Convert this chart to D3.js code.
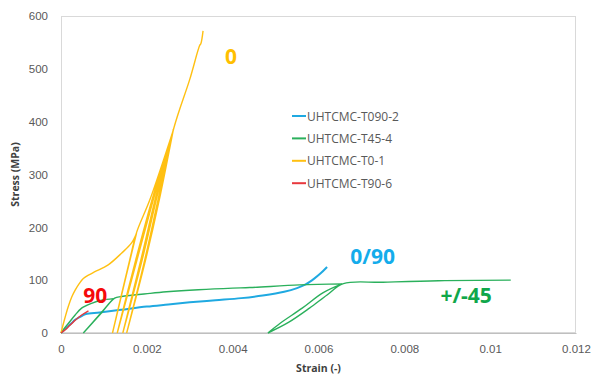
<!DOCTYPE html>
<html>
<head>
<meta charset="utf-8">
<script src="https://cdn.jsdelivr.net/npm/d3@7"></script>
<style>
  html, body { margin: 0; padding: 0; background: #fff; }
  svg { display: block; font-family: "Open Sans", "DejaVu Sans", sans-serif; }
</style>
</head>
<body>
<svg id="chart" width="592" height="376"></svg>
<script>
// Axis ticks
const xTicks = [0, 0.002, 0.004, 0.006, 0.008, 0.01, 0.012];
const yTicks = [0, 100, 200, 300, 400, 500, 600];

// Stress-strain records, [strain, stress (MPa)]
const t090_2 = [
  [0, 0], [0.00008, 6], [0.00017, 13], [0.00025, 19], [0.00033, 25], [0.00041, 29], [0.00048, 32],
  [0.00058, 36], [0.0009, 39], [0.0014, 44], [0.002, 50], [0.0025, 54], [0.003, 58],
  [0.0036, 62], [0.0042, 66], [0.0047, 71], [0.0052, 78], [0.0055, 85], [0.0057, 92],
  [0.0059, 103], [0.00605, 113], [0.0062, 125]
];

const t45_4 = [
  [0, 0], [0.00008, 9], [0.00017, 18], [0.00033, 34], [0.00048, 47], [0.00071, 56], [0.00095, 62], [0.00122, 65],
  [0.00088, 33], [0.00052, 0],
  [0.00092, 36], [0.00125, 66],
  [0.00141, 69], [0.00207, 75], [0.00246, 78], [0.0032, 82], [0.004, 85], [0.0044, 86],
  [0.00556, 91], [0.00655, 93],
  [0.0061, 76], [0.00562, 47], [0.0051, 18], [0.00482, 0],
  [0.0053, 20], [0.00579, 47], [0.0062, 72], [0.00658, 93.5],
  [0.0075, 96], [0.0088, 99], [0.01048, 100]
];

const t0_1 = [
  [0, 0], [0.00008, 25], [0.00017, 50], [0.00025, 68], [0.00033, 81], [0.00042, 93], [0.00052, 103],
  [0.00065, 110], [0.00079, 116], [0.0011, 129], [0.00141, 151], [0.00164, 170], [0.00176, 189],
  [0.00148, 95], [0.0012, 0],
  [0.0016, 138], [0.00176, 190], [0.00207, 252], [0.00262, 385],
  [0.00215, 252], [0.00177, 138], [0.00131, 0],
  [0.00174, 138], [0.00212, 252], [0.00262, 385],
  [0.00222, 252], [0.00189, 138], [0.00144, 0],
  [0.00186, 138], [0.00219, 252], [0.00262, 386],
  [0.00229, 252], [0.00197, 138], [0.00153, 0],
  [0.00195, 138], [0.00226, 252], [0.00263, 388],
  [0.0030, 480], [0.00323, 544], [0.00326, 548], [0.00331, 572]
];

const t90_6 = [
  [0, 0], [0.0001, 6], [0.0002, 14], [0.0003, 22], [0.0004, 29], [0.0005, 35], [0.00064, 42]
];

const seriesNames = ["UHTCMC-T090-2", "UHTCMC-T45-4", "UHTCMC-T0-1", "UHTCMC-T90-6"];
const seriesData = [t090_2, t45_4, t0_1, t90_6];
const seriesColors = ["#1FA9E1", "#2BB05C", "#FFC012", "#E8383D"];
const seriesWidths = [2, 1.4, 1.4, 1.4];

// Orientation labels placed on the plot
const orientLabels = ["0/90", "+/-45", "0", "90"];
const orientColors = ["#14ACEB", "#10A74A", "#FFBF00", "#F50A0A"];
const orientPos = [[0.00726, 146], [0.00944, 71], [0.00396, 525], [0.0008, 72]];

const svg = d3.select("#chart");
const margin = { top: 16, right: 16, bottom: 43, left: 61 };
const W = 592, H = 376;
const iw = W - margin.left - margin.right;
const ih = H - margin.top - margin.bottom;

const x = d3.scaleLinear().domain([0, 0.012]).range([margin.left, margin.left + iw]);
const y = d3.scaleLinear().domain([0, 600]).range([margin.top + ih, margin.top]);

// Plot-area frame
svg.append("rect")
  .attr("x", margin.left + 0.5).attr("y", margin.top + 0.5)
  .attr("width", iw - 1).attr("height", ih - 1)
  .attr("fill", "none").attr("stroke", "#D9D9D9").attr("stroke-width", 1);

// Axes
const xAxis = d3.axisBottom(x).tickValues(xTicks).tickSize(0).tickPadding(12)
  .tickFormat(d => d === 0 ? "0" : d3.format("~g")(d));
const gx = svg.append("g").attr("transform", `translate(0,${margin.top + ih})`).call(xAxis);
gx.select(".domain").attr("stroke", "#BFBFBF");
gx.selectAll("text").attr("fill", "#595959").style("font-size", "11.5px");

const yAxis = d3.axisLeft(y).tickValues(yTicks).tickSize(0).tickPadding(13);
const gy = svg.append("g").attr("transform", `translate(${margin.left},0)`).call(yAxis);
gy.select(".domain").remove();
gy.selectAll("text").attr("fill", "#595959").style("font-size", "11.5px");

// Axis titles
svg.append("text")
  .attr("x", margin.left + iw / 2).attr("y", 372)
  .attr("text-anchor", "middle").attr("fill", "#404040")
  .style("font-size", "10.5px").style("font-weight", "bold")
  .text("Strain (-)");
svg.append("text")
  .attr("transform", `translate(19,${margin.top + ih / 2}) rotate(-90)`)
  .attr("text-anchor", "middle").attr("fill", "#404040")
  .style("font-size", "10.5px").style("font-weight", "bold")
  .text("Stress (MPa)");

// Break a loading history into monotone loading / unloading branches
function branches(data) {
  const out = [];
  let cur = [data[0]];
  let dir = 0;
  for (let i = 1; i < data.length; i++) {
    const d = Math.sign(data[i][1] - data[i - 1][1]);
    if (dir !== 0 && d !== 0 && d !== dir) {
      out.push(cur);
      cur = [data[i - 1]];
    }
    if (d !== 0) dir = d;
    cur.push(data[i]);
  }
  out.push(cur);
  return out;
}

// Curves
const line = d3.line()
  .x(d => x(d[0])).y(d => y(d[1]))
  .curve(d3.curveCatmullRom.alpha(0.5));

const plot = svg.append("g");
seriesData.forEach((data, i) => {
  const path = branches(data).map(b => line(b)).join("");
  plot.append("path")
    .attr("d", path)
    .attr("fill", "none")
    .attr("stroke", seriesColors[i])
    .attr("stroke-width", seriesWidths[i])
    .attr("stroke-linejoin", "round");
});

// Legend
const legend = svg.append("g").attr("transform", "translate(292,116)");
seriesNames.forEach((name, i) => {
  const g = legend.append("g").attr("transform", `translate(0,${i * 22.4})`);
  g.append("line").attr("x1", 0).attr("x2", 14).attr("y1", 0).attr("y2", 0)
    .attr("stroke", seriesColors[i]).attr("stroke-width", 2);
  g.append("text").attr("x", 15).attr("y", 4.5)
    .attr("fill", "#595959").style("font-size", "12px")
    .text(name);
});

// Orientation labels
orientLabels.forEach((t, i) => {
  svg.append("text")
    .attr("x", x(orientPos[i][0])).attr("y", y(orientPos[i][1]))
    .attr("text-anchor", "middle").attr("dominant-baseline", "central")
    .attr("fill", orientColors[i])
    .style("font-size", "21px").style("font-weight", "bold")
    .text(t);
});
</script>
</body>
</html>
